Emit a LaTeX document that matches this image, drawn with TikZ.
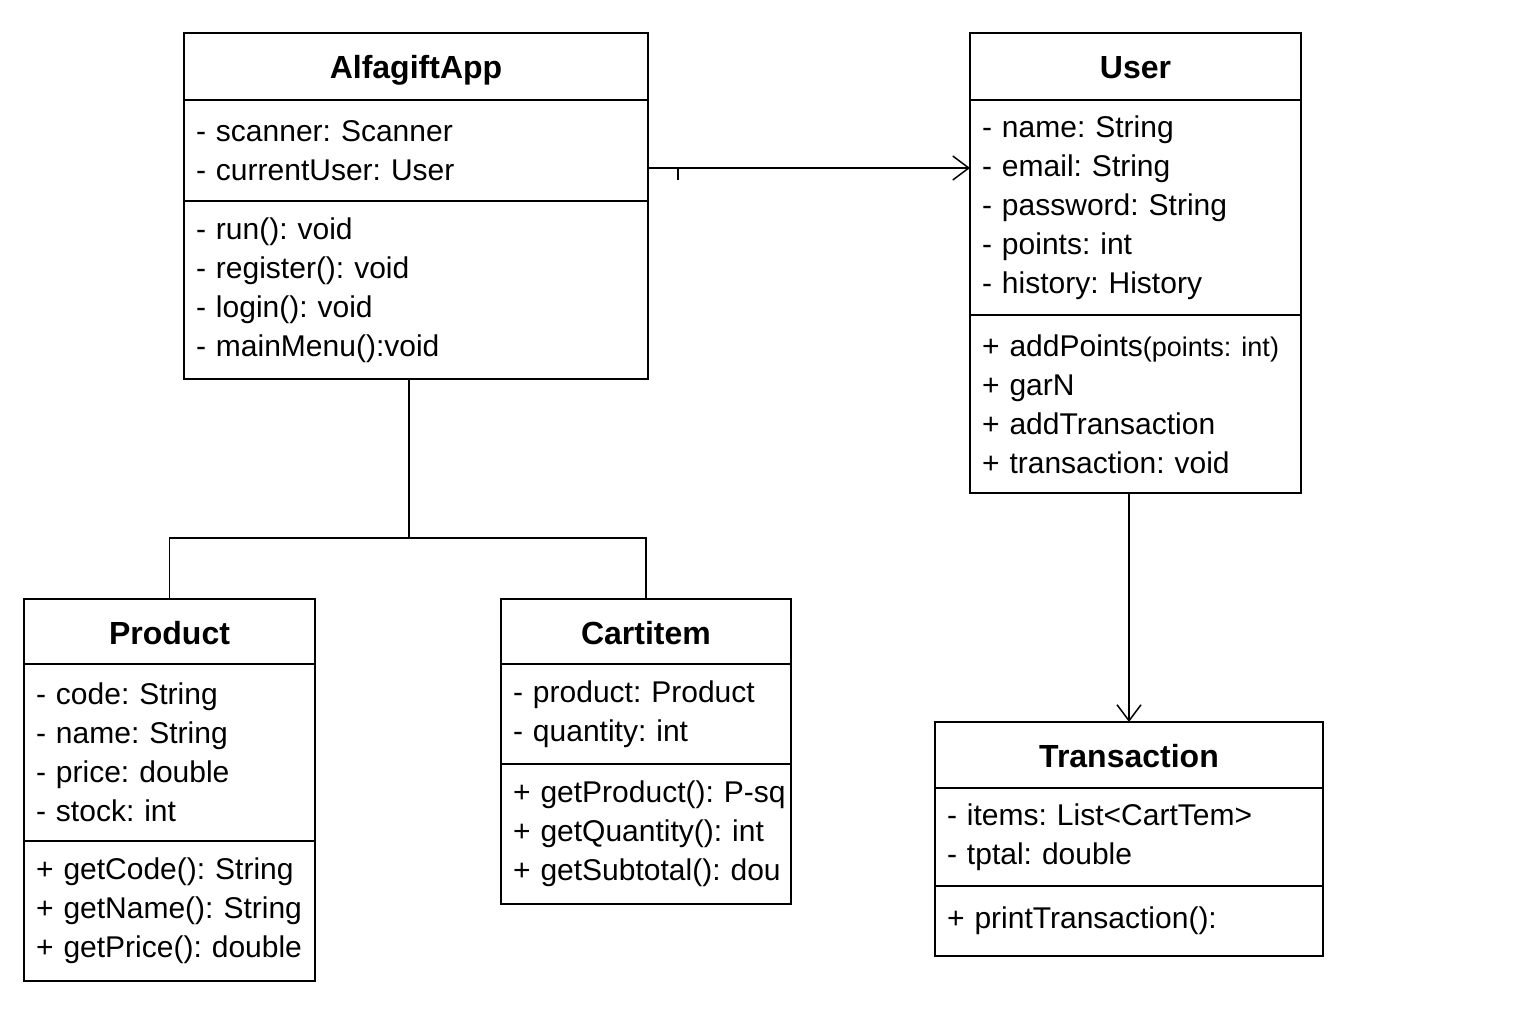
\documentclass[tikz,border=0pt]{standalone}
\usepackage{fontspec}
\setmainfont{Liberation Sans}
\usetikzlibrary{arrows.meta,positioning}
\frenchspacing

\newcommand{\bodyfont}{\fontsize{30}{39}\selectfont}
\newcommand{\titlefont}{\fontsize{32}{39}\selectfont\bfseries}
\newcommand{\umlline}[1]{\mbox{#1}}

\tikzset{
    classtitle/.style={draw, line width=1.5pt, outer sep=0pt, anchor=north west, inner sep=0pt, align=center, text height=25pt, text depth=0pt, font=\titlefont},
    classpart/.style={draw, line width=1.5pt, outer sep=0pt, anchor=north west, inner xsep=12pt, inner ysep=0pt, align=left, font=\bodyfont},
    assoc/.style={line width=1.5pt, -{Straight Barb[length=16pt,width=24pt,line width=1.5pt]}},
    link/.style={line width=1.5pt},
}

\begin{document}
\begin{tikzpicture}[x=1pt,y=-1pt]
    \useasboundingbox (0,0) rectangle (1536,1024);

    % AlfagiftApp
    \node [classtitle, minimum width=464pt, minimum height=67pt] (apptitle) at (184,33) {AlfagiftApp};
    \node [classpart, minimum width=464pt, text width=440pt, minimum height=101pt] (appattr) at (apptitle.south west)
        {\umlline{- scanner: Scanner}\\\umlline{- currentUser: User}};
    \node [classpart, minimum width=464pt, text width=440pt, minimum height=178pt] (appmeth) at (appattr.south west)
        {\umlline{- run(): void}\\\umlline{- register(): void}\\\umlline{- login(): void}\\\umlline{- mainMenu():void}};

    % User
    \node [classtitle, minimum width=331pt, minimum height=67pt] (usertitle) at (970,33) {User};
    \node [classpart, minimum width=331pt, text width=307pt, minimum height=215pt] (userattr) at (usertitle.south west)
        {\umlline{- name: String}\\\umlline{- email: String}\\\umlline{- password: String}\\\umlline{- points: int}\\\umlline{- history: History}};
    \node [classpart, minimum width=331pt, text width=307pt, minimum height=178pt] (usermeth) at (userattr.south west)
        {\umlline{+ addPoints{\fontsize{27}{39}\selectfont(points: int)}}\\\umlline{+ garN}\\\umlline{+ addTransaction}\\\umlline{+ transaction: void}};

    % Product
    \node [classtitle, minimum width=291pt, minimum height=65pt] (prodtitle) at (24,599) {Product};
    \node [classpart, minimum width=291pt, text width=267pt, minimum height=177pt] (prodattr) at (prodtitle.south west)
        {\umlline{- code: String}\\\umlline{- name: String}\\\umlline{- price: double}\\\umlline{- stock: int}};
    \node [classpart, minimum width=291pt, text width=267pt, minimum height=140pt] (prodmeth) at (prodattr.south west)
        {\umlline{+ getCode(): String}\\\umlline{+ getName(): String}\\\umlline{+ getPrice(): double}};

    % CartItem
    \node [classtitle, minimum width=290pt, minimum height=65pt] (carttitle) at (501,599) {Cartitem};
    \node [classpart, minimum width=290pt, text width=266pt, minimum height=100pt] (cartattr) at (carttitle.south west)
        {\umlline{- product: Product}\\\umlline{- quantity: int}};
    \node [classpart, minimum width=290pt, text width=266pt, minimum height=140pt] (cartmeth) at (cartattr.south west)
        {\umlline{+ getProduct(): P-sq}\\\umlline{+ getQuantity(): int}\\\umlline{+ getSubtotal(): dou}};

    % Transaction
    \node [classtitle, minimum width=388pt, minimum height=66pt] (transtitle) at (935,722) {Transaction};
    \node [classpart, minimum width=388pt, text width=364pt, minimum height=98pt] (transattr) at (transtitle.south west)
        {\umlline{- items: List<CartTem>}\\\umlline{- tptal: double}};
    \node [classpart, minimum width=388pt, text width=364pt, minimum height=70pt] (transmeth) at (transattr.south west)
        {\umlline{+ printTransaction():}};

    % connectors
    \coordinate (assocstart) at ([yshift=-17.5pt]appattr.east);
    \draw [assoc] (assocstart) -- (assocstart -| userattr.west);
    \draw [link] ([xshift=30pt]assocstart) -- ++(0,12);

    \coordinate (branch) at (409,538);
    \draw [link] (appmeth.south -| branch) -- (branch);
    \draw [link] (prodtitle.north) |- (branch) -| (carttitle.north);

    \draw [assoc] (transtitle.north |- usermeth.south) -- (transtitle.north);
\end{tikzpicture}
\end{document}
